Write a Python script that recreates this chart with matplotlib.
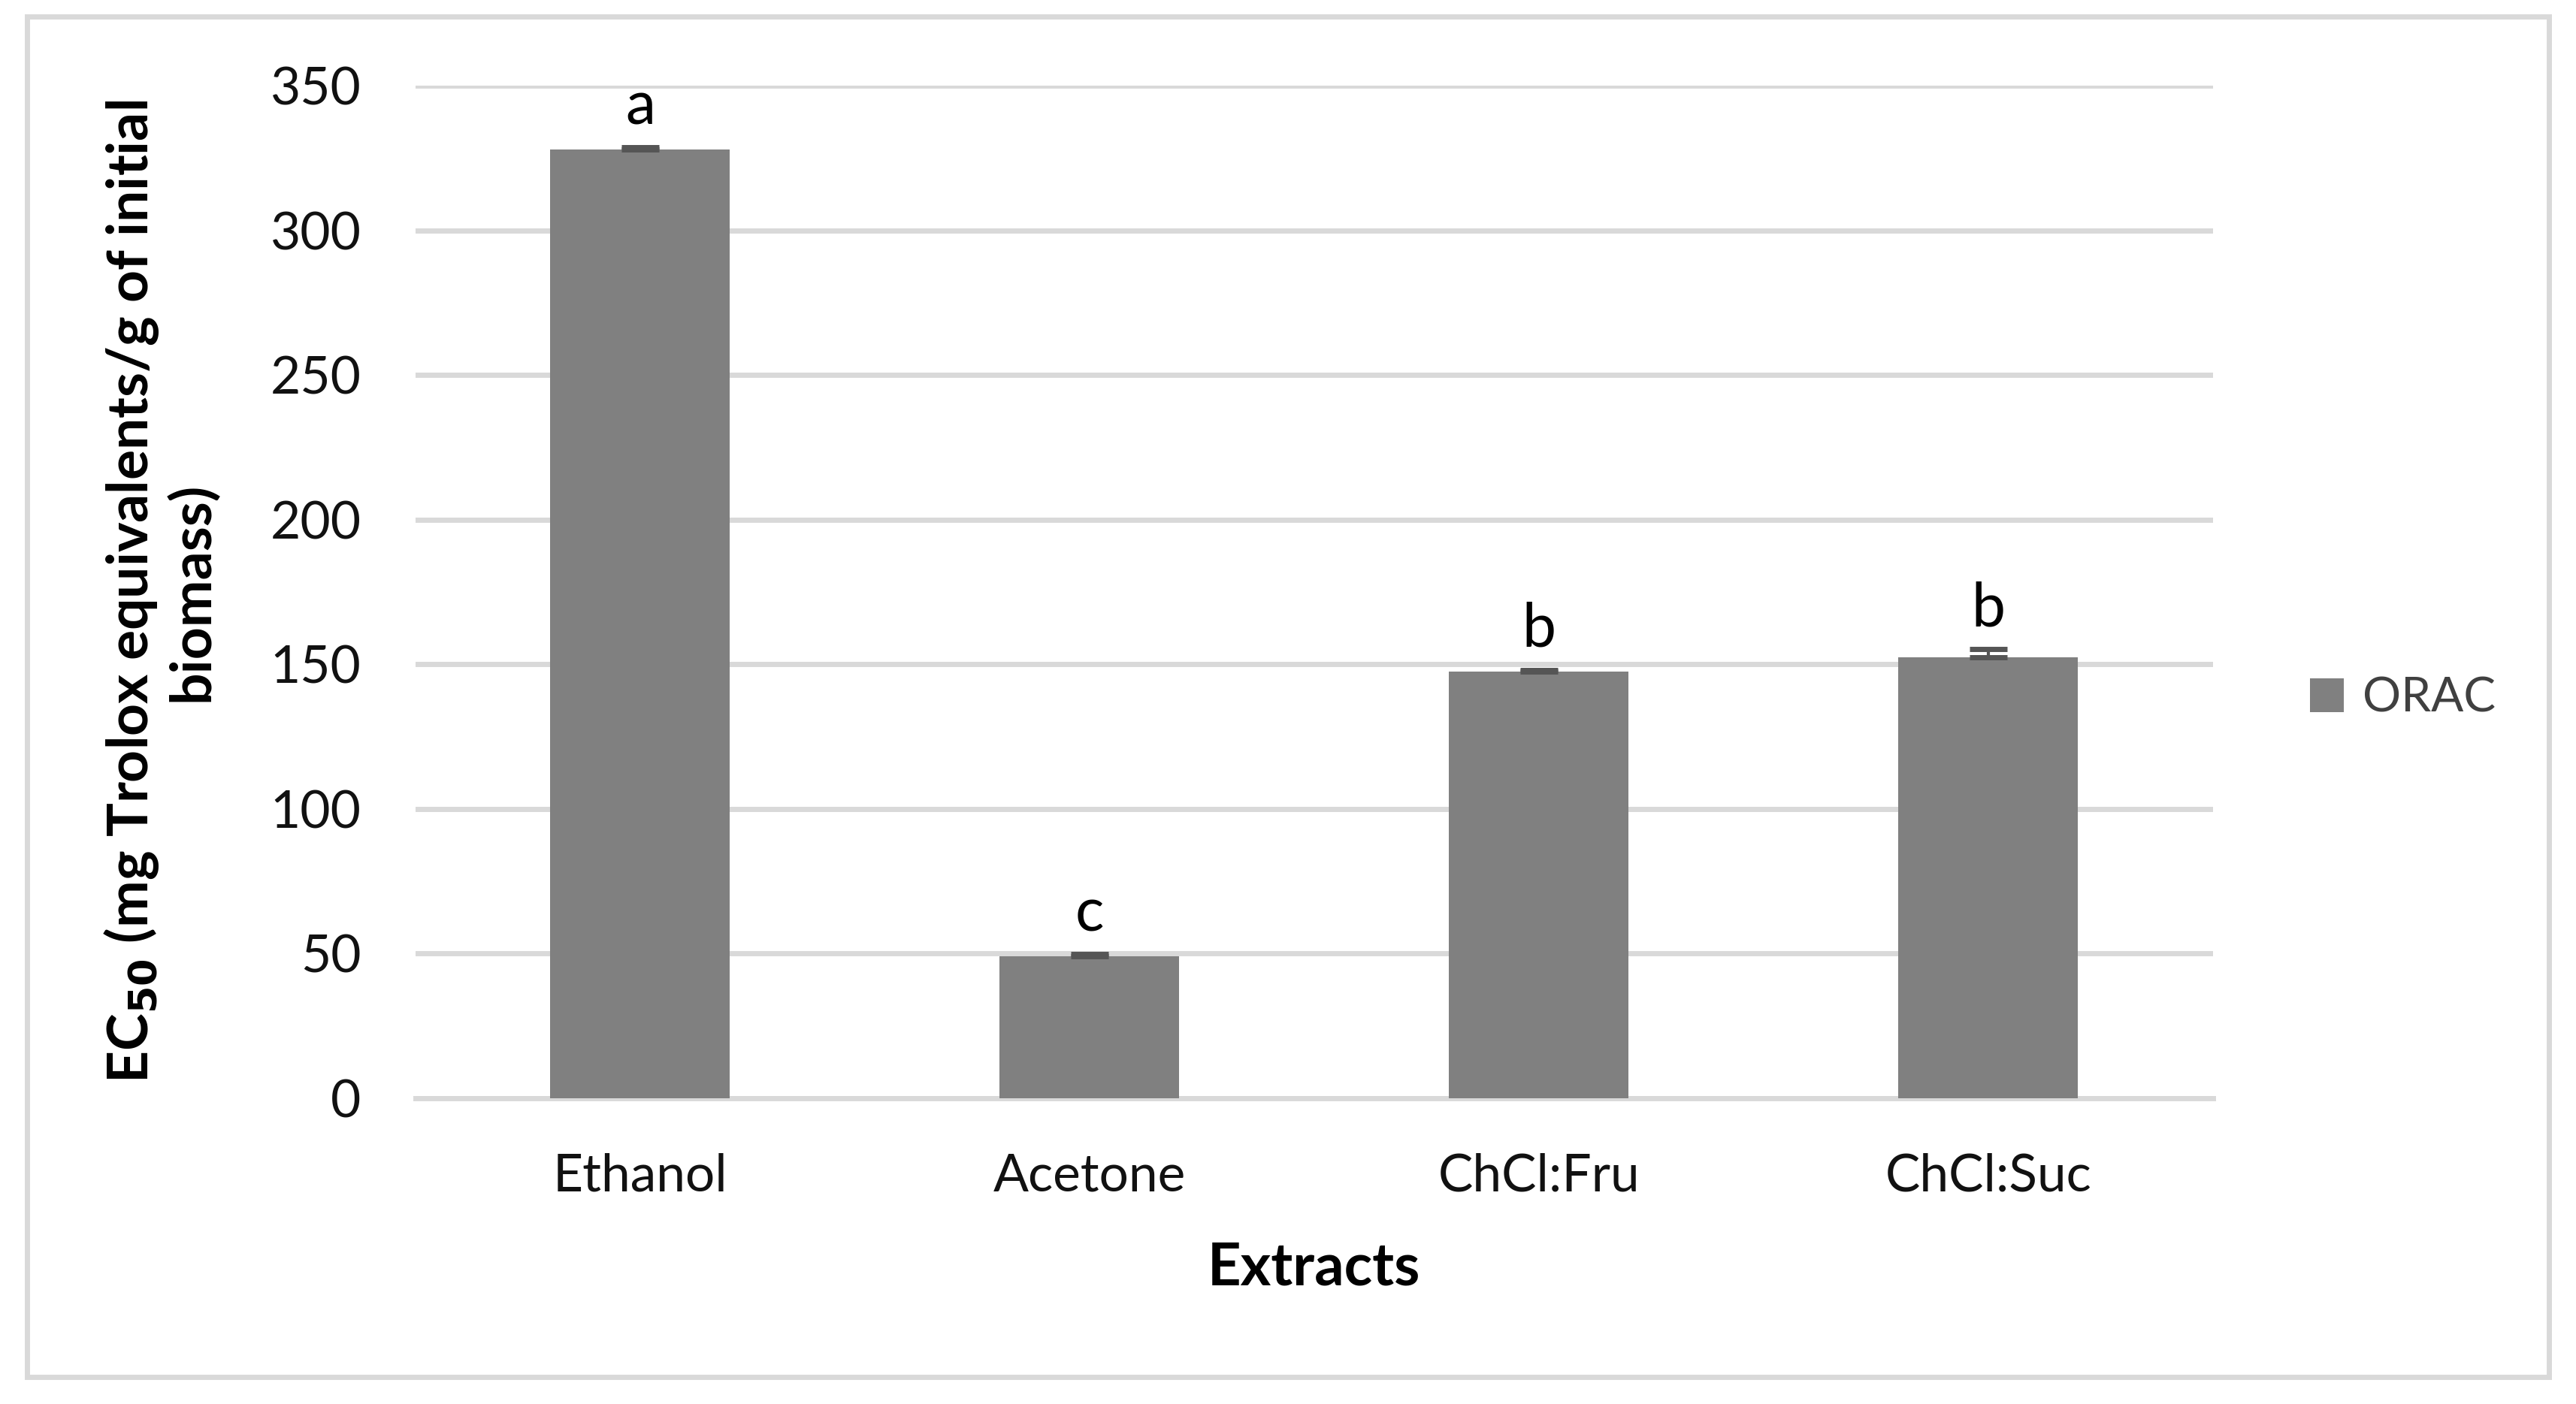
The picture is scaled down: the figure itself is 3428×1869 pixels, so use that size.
import numpy as np
import matplotlib
matplotlib.use("Agg")
import matplotlib.pyplot as plt
from matplotlib.patches import Rectangle

plt.rcParams['font.family'] = ['Lato', 'DejaVu Sans']

# data
extracts = ['Ethanol', 'Acetone', 'ChCl:Fru', 'ChCl:Suc']
orac = [328, 49, 147.5, 152.5]
orac_err = [0.6, 0.9, 0.6, 2.8]
letters = ['a', 'c', 'b', 'b']
yticks = [0, 50, 100, 150, 200, 250, 300, 350]

fig = plt.figure(figsize=(17.14, 9.345), dpi=200)
fig.patches.append(Rectangle((0.0105, 0.0195), 0.979, 0.9685, transform=fig.transFigure,
                             fill=False, edgecolor='#d9d9d9', linewidth=2.5))

ax = fig.add_axes([0.1613, 0.2178, 0.6977, 0.7212])
x = np.arange(len(extracts))
# plus-only error bars, like the original
ax.bar(x, orac, width=0.4, color='#808080', label='ORAC', zorder=3,
       yerr=[np.zeros(len(orac_err)), orac_err],
       error_kw=dict(ecolor='#555555', elinewidth=1.5, capsize=9, capthick=2.5))

for xi, v, e, l in zip(x, orac, orac_err, letters):
    ax.annotate(l, (xi, v + e), xytext=(0, 6), textcoords='offset points',
                ha='center', va='bottom', fontsize=29, color='black')

ax.set_ylim(0, 350)
ax.set_xlim(-0.5, len(extracts) - 0.5)
ax.set_yticks(yticks)
ax.set_xticks(x)
ax.set_xticklabels(extracts)
ax.yaxis.grid(True, color='#d9d9d9', linewidth=2.5, zorder=0)
ax.set_axisbelow(True)
for s in ['top', 'right', 'left']:
    ax.spines[s].set_visible(False)
ax.spines['bottom'].set_color('#d9d9d9')
ax.spines['bottom'].set_linewidth(2.5)
ax.tick_params(axis='both', length=0, labelsize=25, colors='#111111')
ax.tick_params(axis='y', pad=26)
ax.tick_params(axis='x', pad=26)

ax.set_xlabel('Extracts', fontsize=28, fontweight='bold', labelpad=20)
ax.set_ylabel('EC$_{\\mathbf{50}}$ (mg Trolox equivalents/g of initial\nbiomass)',
              fontsize=27, fontweight='bold', labelpad=25, linespacing=1.1)

ax.legend(loc='center left', bbox_to_anchor=(1.03, 0.395), frameon=False,
          fontsize=23, handlelength=0.7, handleheight=0.7, handletextpad=0.4,
          labelcolor='#404040')

fig.savefig('out.png', dpi=200)
